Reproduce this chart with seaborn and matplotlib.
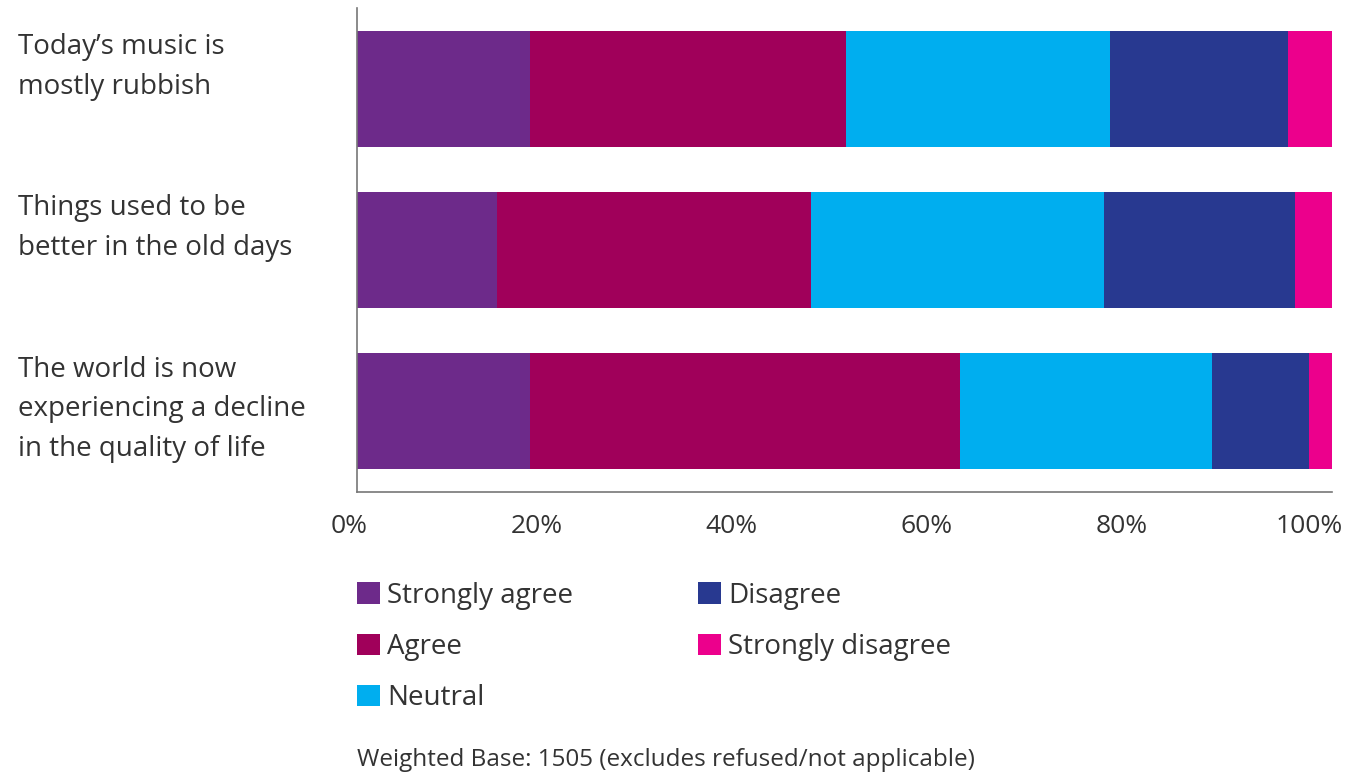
import matplotlib
matplotlib.use("Agg")
import matplotlib.pyplot as plt
import seaborn as sns
import pandas as pd
import numpy as np
from matplotlib.patches import Patch
from matplotlib.transforms import blended_transform_factory, ScaledTranslation

statements = ["Today\u2019s music is\nmostly rubbish",
              "Things used to be\nbetter in the old days",
              "The world is now\nexperiencing a decline\nin the quality of life"]
responses = ["Strongly agree", "Agree", "Neutral", "Disagree", "Strongly disagree"]
strongly_agree = [17.7, 14.4, 17.7]
agree = [32.5, 32.2, 44.1]
neutral = [27.0, 30.0, 25.9]
disagree = [18.3, 19.6, 9.9]
strongly_disagree = [4.5, 3.8, 2.4]
colors = ["#6D2A8A", "#A0005A", "#00AEEF", "#283990", "#EC008C"]
xticks = [0, 20, 40, 60, 80, 100]
xticklabels = ["0%", "20%", "40%", "60%", "80%", "100%"]
footer = "Weighted Base: 1505 (excludes refused/not applicable)"

sns.set_theme(style="white")
plt.rcParams['font.family'] = ['Open Sans', 'DejaVu Sans']
text_color = "#333333"

series = [strongly_agree, agree, neutral, disagree, strongly_disagree]
df = pd.DataFrame({r: v for r, v in zip(responses, series)})
df["statement"] = statements
cum = df[responses].cumsum(axis=1)
cum["statement"] = statements

fig = plt.figure(figsize=(13.52, 7.81), dpi=100)
ax = fig.add_axes([357/1352, 1-492/781, (1332-357)/1352, (492-8)/781])

for r, c in reversed(list(zip(responses, colors))):
    sns.barplot(data=cum, x=r, y="statement", orient="h", color=c,
                width=0.72, saturation=1, ax=ax, linewidth=0, edgecolor="none")

ax.set_xlim(0, 100)
ax.set_ylim(2.5, -0.5)
ax.set_xlabel("")
ax.set_ylabel("")
ax.set_yticks([])
ax.set_xticks(xticks)
ax.set_xticklabels(xticklabels, fontsize=19, color=text_color)
ax.tick_params(axis="x", direction="in", length=10, width=1.2, color="#777777", pad=16)
offset = ScaledTranslation(11/100, 0, fig.dpi_scale_trans)
for lab in ax.get_xticklabels():
    lab.set_horizontalalignment("right")
    lab.set_transform(lab.get_transform() + offset)
for s in ["top", "right"]:
    ax.spines[s].set_visible(False)
for s in ["left", "bottom"]:
    ax.spines[s].set_color("#777777")
    ax.spines[s].set_linewidth(1.2)

trans = blended_transform_factory(fig.transFigure, ax.transData)
for i, s in enumerate(statements):
    ax.text(18/1352, i - 0.345, s, transform=trans, ha="left", va="top",
            fontsize=20, color=text_color, linespacing=1.55)

handles = [Patch(facecolor=c, edgecolor="none", label=r) for r, c in zip(responses, colors)]
leg = fig.legend(handles=handles, loc="upper left", bbox_to_anchor=(357/1352, 1-582/781),
                 ncol=2, frameon=False, fontsize=20, handlelength=0.83, handleheight=0.83,
                 handletextpad=0.25, columnspacing=4.5, labelspacing=0.83, borderaxespad=0,
                 borderpad=0)
for t in leg.get_texts():
    t.set_color(text_color)

fig.text(357/1352, 1-760/781, footer, ha="left", va="center", fontsize=17.5, color=text_color)

fig.savefig("out.png", dpi=100)
